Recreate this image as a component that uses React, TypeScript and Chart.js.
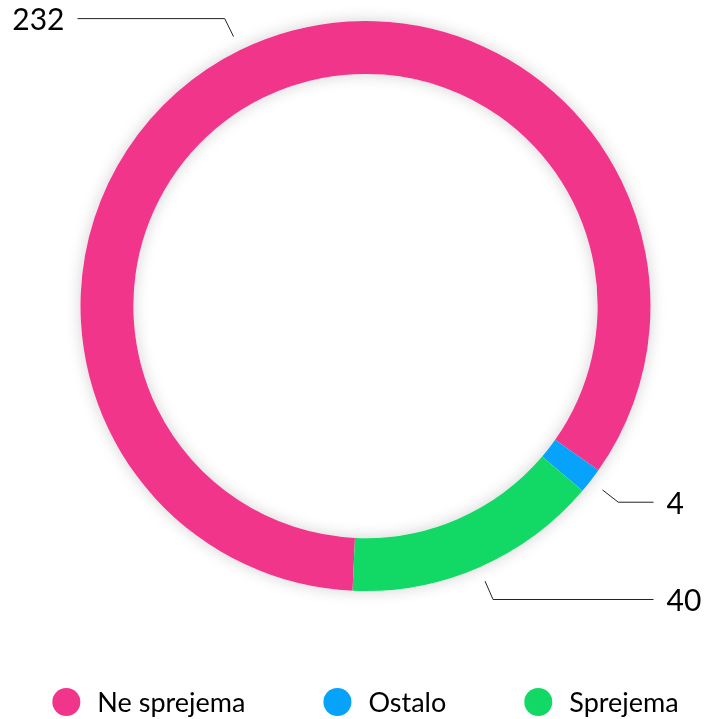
import React, { useEffect, useRef } from 'react';
import { Chart, registerables } from 'chart.js';

Chart.register(...registerables);

const categories: string[] = ['Ne sprejema', 'Ostalo', 'Sprejema'];
const values: number[] = [232, 4, 40];
const colors: string[] = ['#F1358A', '#07A2FA', '#12D865'];

const FONT = 'Lato, "Open Sans", sans-serif';

const ringShadow = {
  id: 'ringShadow',
  beforeDatasetsDraw(chart: any) {
    const arc = chart.getDatasetMeta(0).data[0];
    if (!arc) return;
    const { x, y, outerRadius, innerRadius } = arc.getProps(['x', 'y', 'outerRadius', 'innerRadius'], true);
    const ctx = chart.ctx;
    ctx.save();
    ctx.shadowColor = 'rgba(0,0,0,0.18)';
    ctx.shadowBlur = 16;
    ctx.fillStyle = '#ffffff';
    ctx.beginPath();
    ctx.arc(x, y, outerRadius, 0, Math.PI * 2);
    ctx.arc(x, y, innerRadius, 0, Math.PI * 2, true);
    ctx.closePath();
    ctx.fill();
    ctx.restore();
  },
};

const leaderLabels = {
  id: 'leaderLabels',
  afterDatasetsDraw(chart: any) {
    const ctx = chart.ctx;
    const meta = chart.getDatasetMeta(0);
    const data = chart.data.datasets[0].data as number[];
    meta.data.forEach((el: any, i: number) => {
      const { x, y, startAngle, endAngle, outerRadius } = el.getProps(
        ['x', 'y', 'startAngle', 'endAngle', 'outerRadius'],
        true
      );
      const mid = (startAngle + endAngle) / 2;
      const cos = Math.cos(mid);
      const sin = Math.sin(mid);
      const r1 = outerRadius + 15;
      const r2 = outerRadius + 35;
      const x1 = x + cos * r1;
      const y1 = y + sin * r1;
      const x2 = x + cos * r2;
      const y2 = y + sin * r2;
      const right = cos >= 0;
      const x3 = right ? x + outerRadius + 3 : x - outerRadius - 3;
      ctx.save();
      ctx.strokeStyle = '#222222';
      ctx.lineWidth = 1;
      ctx.beginPath();
      ctx.moveTo(x1, y1);
      ctx.lineTo(x2, y2);
      ctx.lineTo(x3, y2);
      ctx.stroke();
      ctx.fillStyle = '#000000';
      ctx.font = `30px ${FONT}`;
      ctx.textBaseline = 'middle';
      ctx.textAlign = right ? 'left' : 'right';
      ctx.fillText(String(data[i]), right ? x3 + 13 : x3 - 13, y2 + 2);
      ctx.restore();
    });
  },
};

const bottomLegend = {
  id: 'bottomLegend',
  afterDraw(chart: any) {
    const ctx = chart.ctx;
    const labels = chart.data.labels as string[];
    const bg = chart.data.datasets[0].backgroundColor as string[];
    const diam = 28;
    const gapText = 17;
    const gapItem = 78;
    const cy = 702;
    const centerX = (chart.chartArea.left + chart.chartArea.right) / 2;
    ctx.save();
    ctx.font = `27px ${FONT}`;
    const widths = labels.map((l) => ctx.measureText(l).width);
    const total =
      widths.reduce((a, b) => a + b, 0) + labels.length * (diam + gapText) + (labels.length - 1) * gapItem;
    let x = centerX - total / 2;
    labels.forEach((l, i) => {
      ctx.fillStyle = bg[i];
      ctx.beginPath();
      ctx.arc(x + diam / 2, cy, diam / 2, 0, Math.PI * 2);
      ctx.fill();
      ctx.fillStyle = '#000000';
      ctx.textAlign = 'left';
      ctx.textBaseline = 'middle';
      ctx.fillText(l, x + diam + gapText, cy + 1);
      x += diam + gapText + widths[i] + gapItem;
    });
    ctx.restore();
  },
};

export default function App() {
  const canvasRef = useRef<HTMLCanvasElement | null>(null);

  useEffect(() => {
    if (!canvasRef.current) return;
    const chart = new Chart(canvasRef.current, {
      type: 'doughnut',
      data: {
        labels: categories,
        datasets: [
          {
            data: values,
            backgroundColor: colors,
            borderWidth: 0,
            hoverOffset: 0,
            radius: 285,
            cutout: 248,
          } as any,
        ],
      },
      options: {
        animation: false,
        responsive: true,
        maintainAspectRatio: false,
        events: [],
        rotation: 182.6,
        layout: { padding: { top: 1.5, left: 26, right: 0, bottom: 108.5 } },
        plugins: {
          tooltip: { enabled: false },
          legend: { display: false },
        },
      } as any,
      plugins: [ringShadow, leaderLabels, bottomLegend],
    });
    return () => chart.destroy();
  }, []);

  return (
    <div style={{ position: 'absolute', left: 0, top: 0, width: 705, height: 719, background: '#ffffff' }}>
      <canvas ref={canvasRef} />
    </div>
  );
}
